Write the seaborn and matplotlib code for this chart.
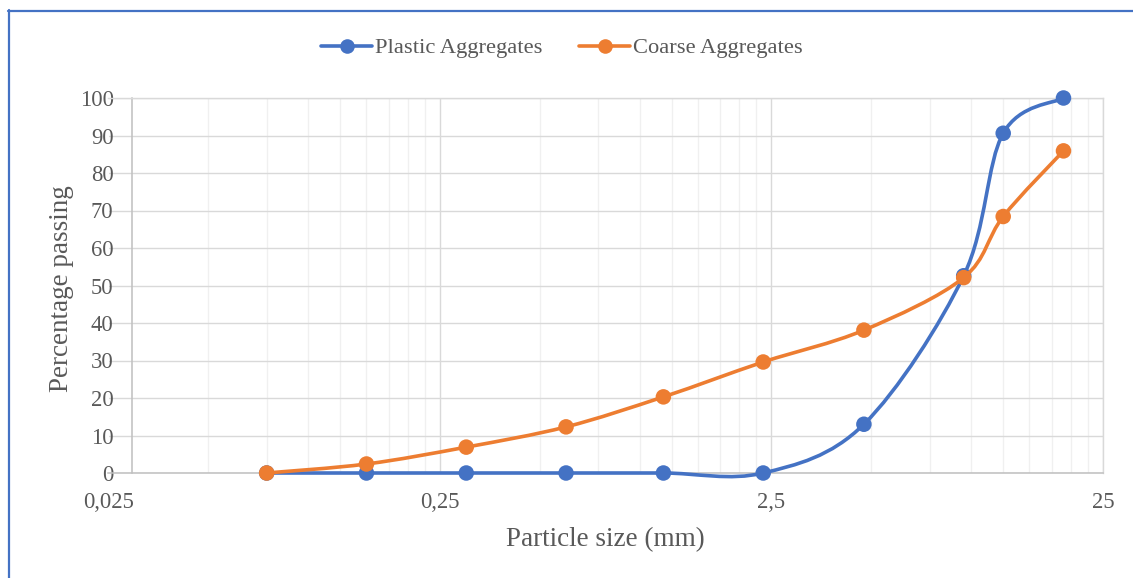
import numpy as np
import pandas as pd
import matplotlib
matplotlib.use('Agg')
import matplotlib.pyplot as plt
import seaborn as sns
from matplotlib.path import Path
from matplotlib.patches import PathPatch
from matplotlib.lines import Line2D
from matplotlib.ticker import FixedLocator, FixedFormatter, NullFormatter

# ---- data ----
particle_size = [0.075, 0.15, 0.3, 0.6, 1.18, 2.36, 4.75, 9.5, 12.5, 19]
plastic_passing = [0, 0, 0, 0, 0, 0, 13.0, 52.6, 90.6, 100]
coarse_passing = [0, 2.4, 6.9, 12.3, 20.3, 29.6, 38.1, 52.1, 68.4, 85.9]
series_names = ['Plastic Aggregates', 'Coarse Aggregates']
series_colors = ['#4472C4', '#ED7D31']
x_ticks = [0.025, 0.25, 2.5, 25]
x_tick_labels = ['0,025', '0,25', '2,5', '25']
y_ticks = list(range(0, 101, 10))

sns.set_theme(style='white')
plt.rcParams['font.family'] = ['Liberation Serif', 'DejaVu Serif']

W, H = 1133, 578
fig = plt.figure(figsize=(W / 100, H / 100), dpi=100)
ax = fig.add_axes([108.5 / W, 1 - 473 / H, (1103 - 108.5) / W, (473 - 98) / H])
ax.set_xscale('log')


def smooth_path(xs, ys):
    """Excel-like smoothed line through the data points (Bezier in log-x space)."""
    pts = np.column_stack([np.log10(np.asarray(xs, float)), np.asarray(ys, float)])
    n = len(pts)
    verts = [pts[0]]
    codes = [Path.MOVETO]
    for i in range(n - 1):
        p0 = pts[max(i - 1, 0)]
        p1 = pts[i]
        p2 = pts[i + 1]
        p3 = pts[min(i + 2, n - 1)]
        c1 = p1 + (p2 - p0) / 6.0
        c2 = p2 - (p3 - p1) / 6.0
        verts += [c1, c2, p2]
        codes += [Path.CURVE4] * 3
    verts = np.array(verts)
    verts[:, 0] = 10 ** verts[:, 0]
    return Path(verts, codes)


df = pd.DataFrame({
    'size': particle_size * 2,
    'passing': plastic_passing + coarse_passing,
    'series': [series_names[0]] * len(particle_size) + [series_names[1]] * len(particle_size),
})

for i, (name, color) in enumerate(zip(series_names, series_colors)):
    sub = df[df['series'] == name]
    patch = PathPatch(smooth_path(sub['size'].values, sub['passing'].values),
                      facecolor='none', edgecolor=color, lw=2.6,
                      capstyle='round', joinstyle='round', zorder=3 + 2 * i,
                      clip_on=False)
    ax.add_patch(patch)
    sns.scatterplot(data=sub, x='size', y='passing', color=color, s=125,
                    edgecolor='none', linewidth=0, legend=False, ax=ax,
                    zorder=4 + 2 * i, clip_on=False)

ax.set_xscale('log')
ax.set_xlim(0.025, 25)
ax.set_ylim(0, 100)

minor = [k * b for b in (0.025, 0.25, 2.5) for k in range(2, 10)]
ax.xaxis.set_major_locator(FixedLocator(x_ticks))
ax.xaxis.set_major_formatter(FixedFormatter(x_tick_labels))
ax.xaxis.set_minor_locator(FixedLocator(minor))
ax.xaxis.set_minor_formatter(NullFormatter())
ax.set_yticks(y_ticks)
ax.set_yticklabels([str(v) for v in y_ticks])

ax.set_axisbelow(True)
ax.grid(which='major', axis='both', color='#D9D9D9', lw=1.0)
ax.grid(which='minor', axis='x', color='#F0F0F0', lw=1.0)

for s in ['top', 'right']:
    ax.spines[s].set_color('#D9D9D9')
    ax.spines[s].set_linewidth(1.0)
ax.spines['bottom'].set_color('#BFBFBF')
ax.spines['bottom'].set_linewidth(1.1)
ax.spines['left'].set_color('#BFBFBF')
ax.spines['left'].set_linewidth(1.1)
ax.spines['left'].set_position(('data', 0.0295))

ax.tick_params(axis='both', which='major', direction='out', length=4.5, width=1.0,
               color='#BFBFBF', labelcolor='#595959', labelsize=16.3)
ax.tick_params(axis='x', which='major', pad=9)
ax.tick_params(axis='y', which='major', pad=9)
ax.tick_params(axis='both', which='minor', length=0)

fig.canvas.draw()
first = ax.xaxis.get_major_ticks()[0]
first.tick1line.set_visible(False)
first.gridline.set_visible(False)

ax.set_xlabel('Particle size (mm)', fontsize=19.5, color='#595959')
ax.xaxis.set_label_coords(0.5, (473 - 540) / 375)
ax.xaxis.label.set_verticalalignment('center')
ax.set_ylabel('Percentage passing', fontsize=19.5, color='#595959')
ax.yaxis.set_label_coords((61 - 108.5) / (1103 - 108.5), (473 - 289) / 375)
ax.yaxis.label.set_verticalalignment('center')

handles = [Line2D([], [], color=c, lw=2.6, marker='o', markersize=10.5, markeredgewidth=0)
           for c in series_colors]
fig.legend(handles, series_names, loc='center', bbox_to_anchor=(562 / W, 1 - 48 / H),
           ncol=2, frameon=False, fontsize=16.2, handlelength=2.25, handletextpad=0.13,
           columnspacing=1.65, labelcolor='#595959')

# figure frame (blue border)
fig.add_artist(Line2D([9 / W, 9 / W], [0, 1 - 10 / H], color='#4472C4', lw=1.6,
                      transform=fig.transFigure))
fig.add_artist(Line2D([8 / W, 1], [1 - 10.5 / H, 1 - 10.5 / H], color='#4472C4', lw=1.6,
                      transform=fig.transFigure))

fig.savefig('out.png', dpi=100)
